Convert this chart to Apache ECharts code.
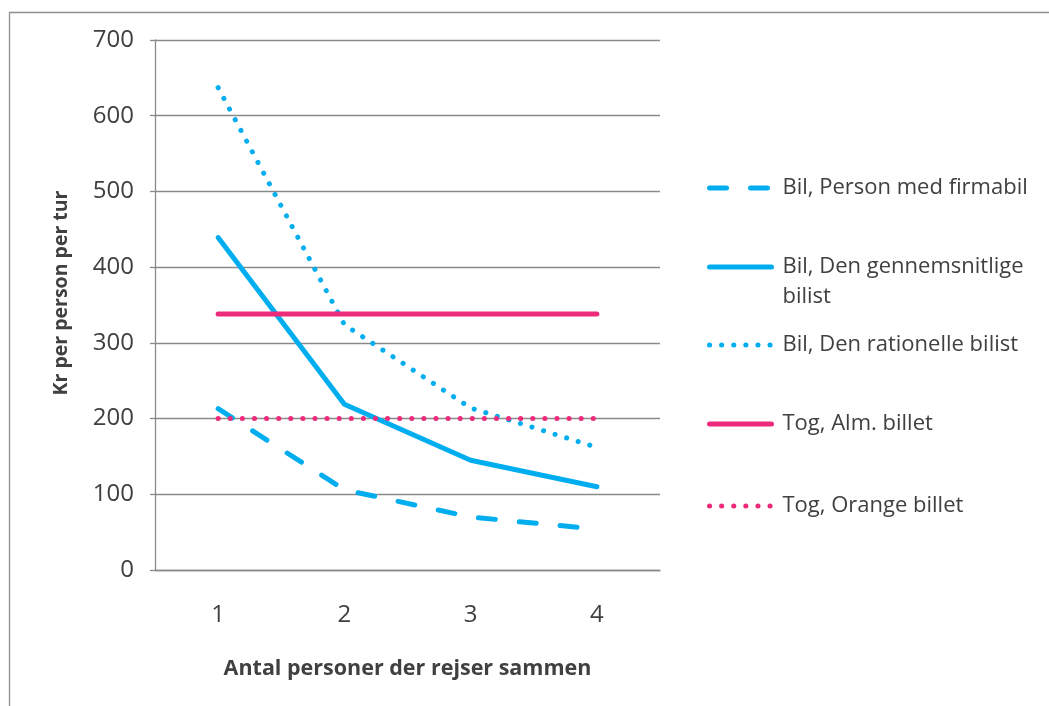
<!DOCTYPE html>
<html>
<head>
<meta charset="utf-8">
<script src="https://cdn.jsdelivr.net/npm/echarts@6/dist/echarts.min.js"></script>
<style>
html,body{margin:0;padding:0;background:#fff;}
#chart{width:1049px;height:706px;}
</style>
</head>
<body>
<div id="chart"></div>
<script>
const categories = ['1', '2', '3', '4'];
const firmabil = [213, 106, 70, 54];
const gennemsnitlige = [439, 219, 145, 110];
const rationelle = [637, 324, 214, 162];
const togAlm = [338, 338, 338, 338];
const togOrange = [200, 200, 200, 200];
const yTicks = [0, 100, 200, 300, 400, 500, 600, 700];

const names = [
  'Bil, Person med firmabil',
  'Bil, Den gennemsnitlige bilist',
  'Bil, Den rationelle bilist',
  'Tog, Alm. billet',
  'Tog, Orange billet'
];

const BLUE = '#00AEEF';
const PINK = '#EE2A7B';
const TXT = '#404040';
const GRID = '#8a8a8a';
const FONT = '"Open Sans", sans-serif';

const chart = echarts.init(document.getElementById('chart'), null, {renderer: 'canvas'});

const dash = [17, 24];
const dot = [0.1, 12];

function mkSeries(name, data, color, type) {
  return {
    name: name,
    type: 'line',
    data: data,
    symbol: 'none',
    animation: false,
    lineStyle: {color: color, width: 5, type: type, cap: 'round', join: 'round'},
    itemStyle: {color: color}
  };
}

function mkLegend(name, top, formatter) {
  const lg = {
    data: [name],
    left: 707,
    top: top,
    orient: 'vertical',
    padding: 0,
    itemWidth: 62,
    itemHeight: 14,
    selectedMode: false,
    itemStyle: {color: 'rgba(0,0,0,0)', borderWidth: 0, opacity: 0},
    lineStyle: {width: 5, cap: 'round', join: 'round'},
    textStyle: {fontFamily: FONT, fontSize: 22, color: TXT, lineHeight: 30, padding: [0, 0, 0, 6]}
  };
  if (formatter) lg.formatter = formatter;
  return lg;
}

const option = {
  backgroundColor: '#fff',
  animation: false,
  graphic: [{
    type: 'rect',
    shape: {x: 9.5, y: 12.5, width: 1200, height: 900},
    style: {fill: 'none', stroke: '#8f8f8f', lineWidth: 1.3},
    silent: true
  }],
  grid: {left: 155, right: 389, top: 40, bottom: 136, containLabel: false},
  legend: [
    mkLegend(names[0], 173),
    mkLegend(names[1], 222, function () { return '\nBil, Den gennemsnitlige\nbilist'; }),
    mkLegend(names[2], 330),
    mkLegend(names[3], 409),
    mkLegend(names[4], 491)
  ],
  xAxis: {
    type: 'category',
    data: categories,
    boundaryGap: true,
    name: 'Antal personer der rejser sammen',
    nameLocation: 'middle',
    nameGap: 88,
    nameTextStyle: {fontFamily: FONT, fontSize: 21.5, fontWeight: 'bold', color: TXT},
    axisLine: {lineStyle: {color: GRID, width: 1.3}},
    axisTick: {show: false},
    axisLabel: {fontFamily: FONT, fontSize: 24, color: TXT, margin: 33}
  },
  yAxis: {
    type: 'value',
    min: 0,
    max: 700,
    interval: 100,
    name: 'Kr per person per tur',
    nameLocation: 'middle',
    nameGap: 84,
    nameTextStyle: {fontFamily: FONT, fontSize: 19.5, fontWeight: 'bold', color: TXT, padding: [0, 0, 0, 24]},
    axisLine: {show: true, lineStyle: {color: GRID, width: 1.3}},
    axisTick: {show: true, length: 5, lineStyle: {color: GRID, width: 1.3}},
    splitLine: {show: true, lineStyle: {color: GRID, width: 1.3}},
    axisLabel: {
      fontFamily: FONT, fontSize: 24, color: TXT, margin: 21,
      formatter: function (v) { return yTicks.indexOf(v) >= 0 ? String(v) : ''; }
    }
  },
  series: [
    mkSeries(names[0], firmabil, BLUE, dash),
    mkSeries(names[1], gennemsnitlige, BLUE, 'solid'),
    mkSeries(names[2], rationelle, BLUE, dot),
    mkSeries(names[3], togAlm, PINK, 'solid'),
    mkSeries(names[4], togOrange, PINK, dot)
  ]
};

chart.setOption(option);
</script>
</body>
</html>
